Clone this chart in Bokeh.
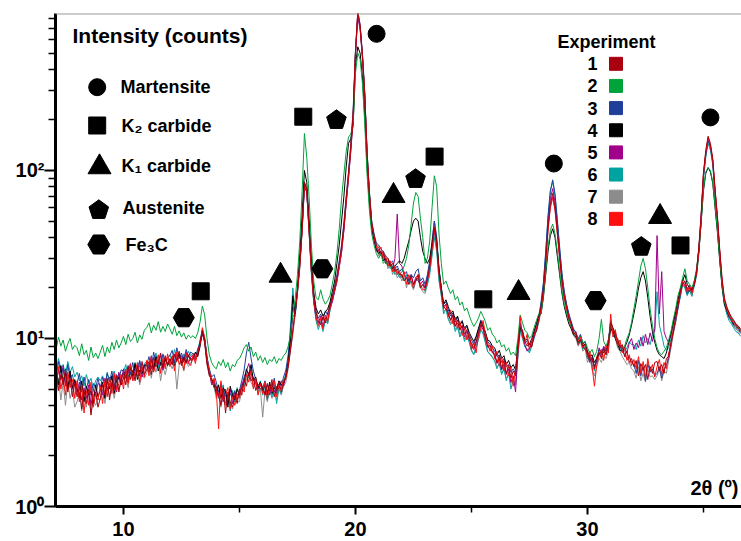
import numpy as np
from bokeh.plotting import figure
from bokeh.models import FixedTicker, Span
from bokeh.core.properties import value
from bokeh.embed import file_html
from bokeh.resources import INLINE

# ---------------- data (2theta from 7.0 deg, step 0.1; one row per degree) ----------------
START_DEG = 7
STEP = 0.1

exp1 = [
    [5.6, 6.5, 4.9, 6.1, 5.3, 6.6, 4.8, 5.8, 4.5, 5.4],
    [4.5, 5.2, 3.8, 4.9, 4.1, 5.0, 3.5, 4.6, 4.8, 3.9],
    [4.4, 5.3, 4.6, 5.8, 4.3, 5.5, 5.0, 6.0, 4.8, 5.7],
    [6.2, 5.3, 6.8, 5.7, 6.5, 5.6, 6.9, 6.0, 7.3, 6.1],
    [6.5, 7.3, 6.1, 7.7, 6.8, 7.2, 8.2, 6.7, 7.9, 7.0],
    [7.6, 7.0, 8.1, 7.3, 8.4, 6.9, 7.8, 7.1, 8.0, 7.4],
    [7.5, 8.2, 7.9, 9.6, 11.0, 9.5, 7.0, 6.0, 5.8, 5.1],
    [5.2, 4.6, 4.0, 5.0, 3.6, 4.8, 4.2, 3.9, 4.6, 4.1],
    [5.0, 4.6, 5.7, 5.2, 6.3, 5.6, 5.9, 4.9, 5.3, 5.0],
    [5.2, 4.6, 5.4, 4.9, 5.7, 4.5, 5.1, 5.5, 4.8, 5.4],
    [5.9, 6.8, 8.6, 11.2, 14.8, 19.5, 28, 46, 85, 78],
    [46, 27, 18.0, 14.2, 12.8, 12.1, 13.5, 12.4, 14.2, 15.6],
    [17.5, 20, 23, 28, 35, 47, 68, 96, 140, 220],
    [510, 880, 730, 490, 285, 128, 74, 49, 41, 36],
    [35, 32, 33, 29, 30, 27, 28, 25, 26, 24],
    [24, 22, 23, 21, 23.5, 21, 22, 24, 20, 21],
    [20, 22.5, 27, 35, 46, 37, 25, 19.5, 15.5, 15],
    [14.2, 12.8, 13.9, 11.8, 12.9, 11.2, 12.0, 10.6, 11.3, 9.9],
    [9.4, 8.8, 9.6, 10.8, 12.2, 11.6, 10.0, 8.9, 9.1, 8.2],
    [8.1, 7.2, 7.9, 6.6, 7.4, 6.2, 6.9, 5.8, 6.4, 6.0],
    [9.0, 11.8, 11.2, 9.6, 9.0, 9.4, 8.9, 10.8, 11.0, 13.2],
    [15.5, 19.5, 29, 46, 63, 73, 61, 44, 31, 22],
    [17.5, 15.5, 13, 12.4, 10.6, 10.8, 9.2, 9.8, 9.0, 8.6],
    [8.2, 7.4, 7.6, 6.6, 7.8, 8.3, 7.6, 8.8, 8.0, 9.4],
    [12.4, 11.6, 10.4, 10.0, 8.8, 9.2, 7.8, 8.4, 7.2, 7.6],
    [6.8, 7.4, 6.0, 7.1, 6.5, 7.0, 5.7, 6.8, 6.2, 7.2],
    [7.3, 6.4, 7.0, 6.2, 7.6, 7.8, 9.6, 10.8, 13.5, 15.5],
    [19, 21, 22, 19.5, 19, 20, 20.5, 25, 35, 55],
    [98, 132, 160, 145, 118, 78, 54, 34, 23, 17.5],
    [15.6, 14.2, 13.5, 12.8, 12.2, 11.9, 11.4],
]

exp2 = [
    [9.6, 8.7, 10.2, 9.0, 9.8, 8.4, 9.3, 10.0, 8.6, 9.1],
    [8.8, 7.9, 9.3, 8.0, 8.5, 7.4, 8.9, 7.7, 8.2, 7.6],
    [8.3, 9.1, 7.8, 8.9, 8.2, 9.5, 8.6, 9.8, 8.8, 9.4],
    [10.3, 9.2, 10.6, 9.6, 10.0, 10.9, 9.4, 10.5, 9.9, 11.2],
    [11.6, 12.4, 10.8, 12.0, 11.2, 12.6, 10.9, 11.8, 11.0, 12.2],
    [11.4, 10.6, 11.8, 10.4, 11.1, 10.2, 10.8, 9.9, 10.5, 10.1],
    [10.4, 10.0, 10.8, 12.5, 15.6, 13.8, 10.0, 8.0, 7.2, 6.8],
    [6.6, 7.3, 6.9, 7.5, 6.7, 7.2, 6.4, 7.0, 6.8, 7.4],
    [7.6, 8.1, 8.8, 9.2, 8.4, 8.9, 7.8, 8.3, 7.4, 7.9],
    [7.2, 7.7, 7.0, 7.5, 7.3, 7.8, 7.1, 7.6, 7.4, 7.9],
    [8.2, 9.0, 10.5, 14, 17, 24, 38, 75, 166, 120],
    [70, 36, 22, 17.5, 17.0, 19.5, 17.2, 16.0, 16.8, 18.0],
    [21, 25, 32, 45, 68, 95, 130, 158, 165, 190],
    [380, 500, 460, 330, 190, 95, 58, 42, 36, 32],
    [30, 32, 28, 29, 27, 27.5, 25, 26, 25, 24],
    [25, 27, 30, 36, 48, 64, 74, 70, 52, 40],
    [28, 30, 38, 60, 93, 80, 42, 28, 21, 22],
    [20, 18.5, 19.5, 17.0, 17.8, 15.8, 16.5, 14.6, 15.2, 13.8],
    [12.6, 11.8, 12.4, 13.2, 14.5, 13.6, 12.6, 11.2, 11.6, 10.6],
    [10.2, 9.4, 9.8, 8.9, 9.2, 8.4, 8.8, 8.0, 8.3, 7.9],
    [10.0, 13.8, 12.4, 11.2, 10.8, 10.0, 10.4, 11.6, 12.8, 14.0],
    [14, 18, 25, 35, 44, 48, 42, 33, 25, 19],
    [16, 14.2, 12.6, 11.8, 10.9, 10.5, 9.9, 10.3, 9.4, 9.6],
    [8.8, 8.2, 8.6, 7.8, 8.4, 10.0, 13.0, 9.6, 9.0, 9.8],
    [12.0, 11.5, 10.5, 9.5, 9.0, 8.8, 9.0, 10.0, 10.8, 12.5],
    [15, 18, 22, 27, 30, 26, 20, 15, 12, 10],
    [8.8, 8.2, 8.0, 8.4, 8.8, 9.8, 11, 13, 15, 18],
    [20, 23, 26, 22, 21, 20, 22, 26, 34, 50],
    [78, 98, 104, 100, 85, 62, 44, 30, 21, 16.5],
    [15.2, 14.0, 13.2, 12.6, 12.0, 11.7, 11.3],
]

exp3 = [
    [6.8, 5.9, 7.3, 6.2, 6.6, 5.4, 7.0, 5.8, 6.1, 5.2],
    [5.4, 6.2, 4.8, 5.9, 5.0, 5.7, 4.6, 5.4, 5.1, 5.8],
    [5.0, 5.9, 5.3, 6.2, 5.5, 6.4, 5.2, 6.1, 5.7, 6.5],
    [6.4, 5.8, 6.9, 6.1, 7.2, 6.0, 6.6, 7.4, 6.2, 7.0],
    [7.0, 7.8, 6.6, 8.3, 7.1, 7.5, 6.9, 8.1, 7.3, 7.7],
    [7.9, 8.5, 7.2, 8.8, 7.6, 8.2, 7.4, 8.6, 7.8, 8.3],
    [8.1, 7.6, 8.7, 9.3, 10.8, 9.9, 7.8, 6.6, 5.9, 6.1],
    [5.5, 4.8, 5.3, 4.4, 5.0, 4.1, 4.7, 4.5, 4.9, 4.3],
    [4.9, 5.6, 6.5, 8.2, 9.5, 7.6, 6.4, 5.7, 5.2, 5.5],
    [5.1, 5.6, 4.8, 5.3, 5.0, 5.8, 4.7, 5.5, 5.2, 5.9],
    [6.5, 8.0, 11, 15.5, 14, 19.5, 28, 45, 84, 77],
    [46, 26, 17.5, 14.5, 13.2, 14.0, 12.8, 14.6, 13.8, 16.0],
    [17.8, 20.5, 24, 29, 36, 49, 70, 98, 145, 230],
    [520, 880, 740, 500, 290, 130, 75, 50, 42, 37],
    [36, 34, 33, 31, 30, 28, 29, 26, 27, 25],
    [26, 24, 25, 22, 24, 23, 25, 26, 22, 23],
    [21, 24, 29, 38, 50, 40, 26, 20, 16, 16.5],
    [14.8, 13.6, 14.2, 12.5, 13.4, 11.9, 12.8, 11.2, 11.8, 10.6],
    [9.8, 9.2, 10.1, 11.2, 12.9, 12.0, 10.8, 9.6, 9.2, 8.8],
    [8.4, 7.8, 8.0, 7.2, 7.6, 6.8, 7.0, 6.3, 6.6, 6.2],
    [8.8, 12.0, 11.0, 9.8, 9.5, 8.8, 9.6, 10.8, 12.0, 13.6],
    [16.5, 21.5, 33, 54, 76, 88, 73, 51, 35, 24.5],
    [19, 16, 14, 12.6, 11.4, 10.8, 10.0, 10.6, 9.2, 9.6],
    [8.0, 7.2, 7.8, 6.8, 7.4, 8.6, 8.0, 8.8, 8.4, 9.6],
    [12.8, 11.2, 10.8, 9.4, 9.0, 8.4, 8.0, 7.6, 7.8, 7.2],
    [7.0, 6.2, 7.4, 6.0, 6.8, 5.6, 7.1, 6.3, 6.6, 6.0],
    [6.2, 6.8, 5.8, 6.6, 6.9, 7.6, 9.2, 11.0, 12.6, 15.0],
    [18, 21.5, 21, 18.5, 20, 19, 21, 24.5, 34, 54],
    [92, 125, 150, 138, 112, 74, 51, 32, 21.5, 16.5],
    [14.6, 13.4, 12.8, 12.0, 11.6, 11.3, 10.8],
]

exp4 = [
    [5.9, 6.6, 5.3, 6.9, 5.5, 6.2, 5.0, 6.4, 5.1, 5.7],
    [5.0, 4.4, 5.6, 4.2, 5.2, 4.6, 4.9, 4.1, 5.3, 4.5],
    [4.9, 5.5, 4.4, 5.7, 5.0, 6.0, 4.7, 5.6, 5.9, 5.3],
    [5.8, 6.4, 5.5, 6.7, 6.0, 7.1, 5.7, 6.5, 6.2, 6.9],
    [6.9, 6.3, 7.5, 6.6, 7.8, 6.4, 7.2, 6.8, 7.6, 6.9],
    [7.3, 7.8, 6.9, 7.5, 8.1, 7.1, 7.7, 7.2, 7.9, 7.5],
    [7.7, 8.3, 7.8, 9.0, 11.2, 9.8, 7.4, 6.2, 5.6, 5.4],
    [4.7, 5.3, 4.4, 5.1, 4.8, 3.9, 5.2, 4.6, 4.3, 5.0],
    [4.6, 5.1, 5.5, 6.6, 6.0, 7.0, 5.6, 5.9, 5.1, 5.5],
    [4.9, 5.3, 4.6, 5.5, 4.7, 5.1, 4.9, 5.6, 5.3, 5.4],
    [6.0, 7.2, 10, 18, 14, 20, 32, 55, 100, 85],
    [52, 30, 19.0, 15.2, 14.0, 14.8, 13.6, 14.4, 15.0, 16.4],
    [19, 22, 28, 36, 50, 70, 105, 145, 155, 185],
    [420, 545, 500, 360, 210, 105, 64, 45, 39, 34],
    [32, 33, 29, 30, 27, 28, 26, 27, 28, 29],
    [28, 30, 34, 38, 44, 50, 52, 50, 40, 33],
    [30, 28, 30, 36, 45, 38, 26, 20, 16, 17],
    [15.5, 14.0, 14.6, 12.9, 13.6, 12.1, 12.6, 11.5, 12.0, 10.9],
    [10.2, 9.6, 10.3, 11.5, 12.6, 11.8, 10.9, 9.8, 9.6, 9.0],
    [8.8, 8.0, 8.5, 7.6, 7.9, 7.0, 7.4, 6.7, 7.0, 6.5],
    [9.2, 11.5, 10.8, 9.7, 9.9, 9.2, 10.0, 11.1, 12.3, 13.8],
    [14, 17.5, 24, 33, 41, 45, 40, 31, 24, 18.5],
    [15.5, 13.6, 12.2, 11.4, 10.5, 10.2, 9.5, 9.9, 9.0, 9.3],
    [8.4, 7.8, 8.0, 7.2, 7.6, 8.0, 8.4, 8.2, 8.8, 9.2],
    [11.5, 11.0, 10.0, 9.2, 8.5, 8.4, 8.8, 9.5, 10.5, 12.0],
    [14, 16.5, 20, 23, 25, 22, 17.5, 13.5, 11, 9.5],
    [8.5, 8.0, 7.8, 7.6, 8.2, 9.4, 10.8, 12.5, 14.5, 17],
    [19.5, 22, 24, 21, 20, 19.5, 21, 25, 33, 49],
    [76, 96, 104, 98, 84, 60, 43, 29, 20.5, 16],
    [14.8, 13.6, 13.0, 12.2, 11.8, 11.5, 11.0],
]

exp5 = [
    [6.2, 5.4, 6.5, 5.7, 6.9, 5.2, 5.9, 6.3, 5.0, 5.6],
    [4.8, 5.5, 4.3, 5.1, 4.4, 5.3, 4.0, 5.0, 4.6, 5.4],
    [5.3, 4.6, 5.8, 4.9, 5.4, 5.1, 6.1, 4.8, 6.3, 5.5],
    [6.6, 5.9, 6.2, 7.1, 5.8, 6.8, 6.3, 7.3, 5.9, 6.7],
    [7.2, 6.6, 7.9, 6.4, 7.4, 7.0, 8.0, 6.5, 7.5, 7.1],
    [7.5, 7.0, 8.0, 7.4, 7.7, 7.9, 7.2, 8.3, 7.1, 7.8],
    [7.9, 7.4, 8.2, 9.4, 10.6, 9.6, 7.3, 6.5, 5.3, 5.7],
    [5.0, 4.5, 5.4, 4.2, 4.7, 4.4, 5.0, 4.1, 4.8, 4.6],
    [4.8, 5.2, 5.9, 6.4, 7.1, 6.2, 5.8, 5.4, 5.0, 5.3],
    [5.0, 4.7, 5.3, 4.6, 5.4, 4.8, 5.2, 5.0, 5.6, 5.2],
    [6.0, 7.0, 9.5, 13.5, 14, 19, 27, 44, 80, 74],
    [43, 25, 16.8, 13.2, 12.4, 13.6, 11.8, 13.2, 13.0, 15.2],
    [16.5, 19, 22, 26.5, 33, 44, 64, 90, 132, 205],
    [490, 820, 690, 470, 270, 120, 70, 46, 38, 33],
    [34, 31, 32, 28, 29, 27, 26, 30, 55, 28],
    [27, 24, 23, 22, 24, 21, 23, 22, 21, 22],
    [20, 23, 28, 37, 50, 39, 25, 19, 15.5, 16],
    [13.9, 12.9, 13.6, 11.9, 12.3, 11.4, 11.8, 10.2, 11.0, 10.3],
    [9.0, 8.6, 9.4, 10.6, 12.0, 11.3, 10.2, 8.9, 8.7, 8.4],
    [7.9, 7.1, 7.6, 6.5, 7.0, 6.1, 6.6, 5.5, 6.0, 4.8],
    [8.0, 12.4, 10.6, 9.2, 8.4, 8.8, 9.2, 10.2, 11.4, 13.0],
    [15.5, 20, 30, 48, 68, 78, 65, 46, 32, 23],
    [18.5, 15.8, 13.8, 12.2, 11.2, 11.0, 9.8, 10.4, 9.5, 9.0],
    [8.2, 7.6, 7.4, 6.9, 7.2, 8.8, 8.2, 9.0, 8.6, 9.8],
    [12.2, 10.8, 11.0, 9.6, 9.2, 8.6, 8.9, 8.2, 9.4, 10.0],
    [8.6, 9.4, 8.8, 10.2, 9.0, 10.6, 9.2, 10.8, 9.6, 11.5],
    [41, 14, 25, 11, 10, 9.5, 10.5, 12.5, 14, 17],
    [18.8, 22.5, 21.8, 19.8, 20.8, 18.8, 21.8, 25, 34, 53],
    [94, 126, 154, 140, 114, 76, 52, 33, 22, 17],
    [15.2, 14.4, 13.2, 12.9, 12.1, 11.8, 11.2],
]

exp6 = [
    [7.2, 6.4, 7.6, 6.6, 7.0, 6.1, 7.3, 6.3, 6.8, 5.9],
    [6.3, 5.6, 6.0, 5.2, 6.1, 5.4, 5.8, 5.0, 5.6, 5.9],
    [5.6, 6.0, 5.2, 6.3, 5.5, 5.9, 6.4, 5.6, 6.2, 6.0],
    [6.3, 7.0, 5.9, 6.6, 6.2, 7.2, 6.0, 6.9, 6.4, 7.1],
    [7.3, 6.8, 7.7, 7.0, 8.2, 6.7, 7.4, 7.9, 6.9, 7.6],
    [8.0, 7.4, 8.6, 7.7, 8.3, 7.2, 8.1, 7.6, 8.4, 7.9],
    [8.2, 7.8, 8.5, 9.8, 11.3, 10.0, 7.9, 6.1, 5.7, 5.5],
    [5.1, 4.4, 4.9, 5.3, 4.1, 4.6, 3.7, 4.9, 4.2, 5.1],
    [4.5, 5.4, 5.1, 6.2, 5.8, 6.6, 5.3, 5.5, 4.9, 5.6],
    [4.6, 5.2, 4.3, 4.9, 4.5, 5.3, 4.1, 5.0, 4.7, 5.5],
    [6.2, 7.5, 12, 20, 13.5, 19, 28, 46, 86, 75],
    [44, 24, 16.5, 12.8, 11.3, 12.5, 11.0, 12.8, 12.2, 14.6],
    [16.8, 19.2, 22.5, 27.5, 34, 46, 66, 94, 138, 215],
    [505, 850, 710, 480, 285, 128, 74, 49, 41, 36],
    [33, 31, 32, 28, 29, 26, 27, 24, 25, 23],
    [24, 22, 24, 21, 22, 20, 22, 23, 20, 21],
    [19, 21, 24, 31, 40, 33, 22, 18, 14, 15],
    [13.0, 12.1, 12.8, 11.0, 11.7, 10.2, 11.1, 9.6, 10.4, 9.5],
    [8.4, 8.0, 8.9, 9.8, 11.2, 10.8, 9.4, 8.3, 8.1, 7.8],
    [7.3, 6.6, 7.2, 6.1, 6.7, 5.6, 6.3, 5.0, 5.7, 5.3],
    [7.8, 11.2, 10.0, 8.9, 8.7, 8.2, 9.0, 10.0, 11.2, 12.6],
    [16, 21, 32, 52, 75, 86, 71, 50, 34, 24],
    [18.8, 15.6, 13.6, 12.5, 11.0, 10.2, 9.4, 9.8, 8.6, 9.0],
    [7.6, 8.2, 7.0, 6.4, 7.6, 8.2, 7.8, 8.6, 8.0, 9.0],
    [12.6, 11.4, 10.2, 9.8, 8.6, 8.8, 8.4, 8.8, 9.6, 9.2],
    [9.2, 8.6, 9.8, 9.0, 10.4, 9.4, 10.0, 9.2, 10.6, 11.0],
    [19, 12, 10.5, 9, 8.5, 8.8, 10, 12, 13.5, 16],
    [17.5, 21, 20, 18, 19.5, 17.8, 20.5, 23.5, 32, 50],
    [90, 120, 145, 132, 108, 70, 48, 30, 20, 16],
    [14.0, 12.8, 12.2, 11.6, 11.0, 10.8, 10.3],
]

exp7 = [
    [5.3, 4.6, 5.8, 4.3, 5.5, 4.0, 5.6, 4.4, 5.0, 3.9],
    [4.2, 4.8, 3.7, 4.5, 3.9, 4.6, 3.6, 4.3, 4.0, 4.4],
    [4.3, 5.0, 4.1, 5.2, 4.5, 5.4, 4.4, 5.3, 5.0, 5.6],
    [5.4, 6.0, 5.1, 6.3, 5.6, 5.9, 6.5, 5.3, 6.1, 5.8],
    [6.2, 6.9, 5.8, 7.1, 6.3, 7.4, 5.6, 6.8, 6.1, 7.0],
    [7.1, 6.6, 7.4, 5.0, 6.9, 7.3, 6.4, 7.6, 6.8, 7.2],
    [7.4, 7.7, 8.0, 8.9, 10.9, 9.3, 7.1, 6.3, 5.4, 5.2],
    [4.4, 4.9, 3.9, 4.6, 4.0, 4.5, 4.1, 3.8, 4.4, 4.2],
    [4.2, 4.9, 5.3, 5.7, 6.0, 5.5, 5.1, 5.6, 4.7, 5.0],
    [3.4, 4.9, 4.2, 5.0, 4.4, 4.8, 4.3, 5.1, 4.6, 5.2],
    [5.5, 6.6, 8.5, 10.5, 13.8, 18.5, 26, 43, 80, 75],
    [43, 25, 16.6, 13.0, 11.8, 12.8, 11.6, 13.4, 12.4, 14.8],
    [16.6, 19.2, 21.5, 26.8, 32, 44, 63, 90, 130, 200],
    [490, 840, 700, 470, 275, 122, 71, 47, 39, 35],
    [31, 33, 29, 30, 26, 28, 24, 26, 23, 24],
    [22, 24, 20, 23, 21, 19.5, 22, 23, 20, 19],
    [18.5, 21, 25, 32, 42, 35, 23, 18, 14.5, 15],
    [13.2, 12.4, 13.0, 11.3, 12.0, 10.6, 11.3, 9.9, 10.6, 9.7],
    [8.6, 8.1, 9.0, 10.0, 11.5, 10.6, 9.6, 8.4, 8.0, 7.7],
    [7.4, 6.8, 7.0, 6.2, 6.5, 5.8, 6.1, 5.4, 5.6, 5.5],
    [8.1, 11.0, 10.2, 9.0, 8.5, 8.4, 9.1, 10.3, 11.0, 12.4],
    [14.5, 19, 28, 45, 61, 70, 59, 42, 30, 21],
    [17, 14.6, 13, 11.6, 10.4, 10.0, 9.0, 9.6, 8.4, 8.7],
    [7.2, 7.8, 6.5, 6.0, 6.8, 7.6, 7.2, 8.0, 7.6, 8.4],
    [11.6, 10.4, 10.0, 8.8, 8.4, 7.8, 7.4, 7.0, 7.2, 6.6],
    [6.4, 5.8, 6.8, 5.6, 6.2, 5.5, 6.6, 5.9, 6.0, 5.7],
    [6.0, 6.6, 5.6, 6.4, 6.2, 7.4, 8.8, 10.6, 12.4, 15.2],
    [17.8, 21.2, 20.2, 18.2, 19.6, 18, 20.8, 23.8, 32, 50],
    [93, 124, 150, 136, 110, 72, 50, 32, 21.5, 16.8],
    [14.4, 13.2, 12.6, 11.8, 11.4, 11.0, 10.6],
]

exp8 = [
    [6.4, 5.2, 6.8, 5.0, 5.9, 4.6, 6.3, 5.1, 5.7, 4.4],
    [5.6, 4.2, 5.3, 3.6, 4.9, 4.0, 5.5, 3.9, 4.7, 4.3],
    [5.2, 4.1, 5.6, 4.5, 5.9, 4.7, 6.2, 4.9, 5.4, 6.1],
    [5.0, 6.6, 5.4, 7.0, 5.6, 6.3, 7.2, 5.5, 6.8, 5.9],
    [7.4, 6.0, 7.8, 6.3, 7.1, 8.0, 6.2, 7.6, 6.6, 8.1],
    [6.8, 7.9, 6.4, 8.3, 7.0, 7.7, 6.5, 8.2, 7.2, 6.9],
    [8.0, 7.1, 8.4, 9.2, 11.6, 10.2, 7.6, 6.4, 5.5, 5.8],
    [4.9, 2.9, 5.6, 4.3, 4.6, 5.1, 3.8, 4.5, 4.0, 4.7],
    [4.4, 5.3, 4.8, 6.1, 5.5, 6.4, 5.0, 5.8, 4.6, 5.4],
    [4.7, 5.5, 4.4, 5.2, 4.8, 5.6, 4.5, 5.3, 5.0, 5.7],
    [5.8, 7.0, 8.8, 11.0, 14.5, 19, 27, 44, 82, 76],
    [44, 25, 17.0, 13.5, 12.0, 13.2, 11.4, 13.8, 12.6, 15.0],
    [17.0, 19.5, 22, 27, 33, 45, 65, 92, 135, 210],
    [500, 870, 720, 480, 280, 125, 72, 48, 40, 35],
    [33, 35, 30, 31, 27, 29, 25, 27, 24, 25],
    [23, 25, 21, 24, 22, 20, 23, 24, 21, 19.5],
    [19.5, 22, 26, 34, 44, 36, 24, 19, 15, 16],
    [13.5, 14.8, 12.2, 13.4, 11.5, 12.6, 10.4, 11.6, 9.8, 10.8],
    [8.6, 9.5, 8.2, 10.5, 11.4, 12.8, 10.6, 9.4, 8.4, 9.0],
    [7.6, 8.4, 6.9, 7.8, 6.4, 7.2, 6.0, 6.8, 5.2, 6.6],
    [8.4, 13.5, 10.2, 9.4, 10.6, 8.6, 9.8, 10.5, 11.6, 12.8],
    [15, 19, 28, 44, 60, 69, 58, 42, 30, 22],
    [18, 15, 13.5, 12, 11, 10.4, 9.6, 10.2, 8.8, 9.2],
    [7.8, 8.4, 6.8, 5.2, 7.0, 7.9, 8.6, 7.4, 9.1, 8.2],
    [14.0, 10.2, 11.3, 9.0, 9.8, 8.2, 8.8, 7.4, 8.0, 6.9],
    [7.5, 6.6, 7.8, 6.2, 7.3, 5.8, 7.6, 6.4, 7.0, 5.9],
    [6.8, 7.5, 6.1, 7.2, 6.6, 8.2, 9.0, 11.5, 13.0, 16.0],
    [18.5, 22, 20.5, 19, 20.5, 18.5, 21.5, 24, 33, 52],
    [95, 128, 157, 140, 115, 75, 52, 33, 22, 17],
    [15.0, 13.8, 13.0, 12.4, 12.0, 11.6, 11.1],
]

experiment_labels = ["1", "2", "3", "4", "5", "6", "7", "8"]
experiment_colors = ["#a8000f", "#00a23a", "#1f3f9a", "#000000",
                     "#a0008a", "#00a3a0", "#8c8c8c", "#ff1010"]
experiment_rows = [exp1, exp2, exp3, exp4, exp5, exp6, exp7, exp8]
draw_order = [6, 5, 4, 2, 3, 1, 7, 0]   # indices into the lists above

# phase assignments: (2theta, intensity at which the symbol sits)
martensite_x = [20.91, 28.55, 35.30]
martensite_y = [651, 110, 207]
k2_x = [13.33, 17.75, 23.41, 25.51, 34.01]
k2_y = [19.1, 209, 121, 17.1, 35.8]
k1_x = [16.77, 21.64, 27.03, 33.13]
k1_y = [23.7, 70.7, 18.7, 53]
austenite_x = [19.18, 22.59, 32.32]
austenite_y = [199.5, 88.9, 35.1]
fe3c_x = [12.60, 18.57, 30.35]
fe3c_y = [13.3, 26.0, 16.8]

phase_names = ["Martensite", "K\u2082 carbide", "K\u2081 carbide", "Austenite", "Fe\u2083C"]

x_ticks = [10, 20, 30]
x_minor = [15, 25, 35]
y_ticks = [1, 10, 100]
y_labels = {1: "10\u2070", 10: "10\u00b9", 100: "10\u00b2"}
y_minor = [m * d for d in (1, 10, 100) for m in range(2, 10)]

# ---------------- layout helpers (page pixels of the frame) ----------------
W, H = 741, 541
FRAME_L, FRAME_R, FRAME_T, FRAME_B = 55, 741, 13, 506
X_MIN = 7.07
PPX = 23.2                      # pixels per degree
X_MAX = X_MIN + (FRAME_R - FRAME_L) / PPX
Y_MIN, Y_MAX = 1.0, 860.0
PPY = (FRAME_B - FRAME_T) / np.log10(Y_MAX / Y_MIN)

def rx(px):
    return X_MIN + (px - FRAME_L) / PPX

def ry(py):
    return Y_MIN * 10 ** ((FRAME_B - py) / PPY)

def px_of(x):
    return FRAME_L + (x - X_MIN) * PPX

def py_of(y):
    return FRAME_B - np.log10(y / Y_MIN) * PPY

def flatten(rows):
    xs, ys = [], []
    for d, row in zip(range(START_DEG, START_DEG + len(rows)), rows):
        for j, v in enumerate(row):
            xs.append(round(d + j * STEP, 2))
            ys.append(v)
    return xs, ys

def pentagon(cx_px, cy_px, r):
    ang = np.deg2rad(-90 + 72 * np.arange(5))
    return ([rx(cx_px + r * np.cos(a)) for a in ang],
            [ry(cy_px + r * np.sin(a)) for a in ang])

FONT = value("Liberation Sans")

p = figure(width=W, height=H, x_range=(X_MIN, X_MAX), y_range=(Y_MIN, Y_MAX),
           y_axis_type="log", output_backend="svg", toolbar_location=None,
           min_border_left=FRAME_L, min_border_right=W - FRAME_R,
           min_border_top=FRAME_T, min_border_bottom=H - FRAME_B)
p.outline_line_color = None
p.grid.visible = False
p.background_fill_color = "white"

# axes
p.xaxis.ticker = FixedTicker(ticks=x_ticks, minor_ticks=x_minor)
p.yaxis.ticker = FixedTicker(ticks=y_ticks, minor_ticks=y_minor)
p.yaxis.major_label_overrides = y_labels
for ax in (p.xaxis, p.yaxis):
    ax.axis_line_width = 3
    ax.axis_line_color = "black"
    ax.major_tick_line_color = "black"
    ax.minor_tick_line_color = "black"
    ax.major_tick_line_width = 2
    ax.minor_tick_line_width = 1.5
    ax.major_tick_in = 0
    ax.minor_tick_in = 0
    ax.major_label_text_font = "Liberation Sans"
    ax.major_label_text_font_style = "bold"
    ax.major_label_text_font_size = "20px"
    ax.major_label_text_color = "black"
p.yaxis.major_tick_out = 11
p.yaxis.minor_tick_out = 7
p.yaxis.major_label_standoff = 0
p.xaxis.major_tick_out = 8
p.xaxis.minor_tick_out = 6
p.xaxis.major_label_standoff = 7

p.add_layout(Span(location=Y_MAX, dimension="width", line_color="#9a9a9a", line_width=2))

# spectra
for i in draw_order:
    xs, ys = flatten(experiment_rows[i])
    p.line(xs, ys, line_color=experiment_colors[i], line_width=1)

# phase symbols on peaks
MK = dict(color="black", line_color="black")
p.scatter(martensite_x, martensite_y, marker="circle", size=17, **MK)
p.scatter(k2_x, k2_y, marker="square", size=17, **MK)
p.scatter(k1_x, k1_y, marker="triangle", size=23, **MK)
p.scatter(fe3c_x, fe3c_y, marker="hex", size=21, **MK)
pxs, pys = [], []
for x, y in zip(austenite_x, austenite_y):
    a, b = pentagon(px_of(x), py_of(y), 10.3)
    pxs.append(a)
    pys.append(b)
p.patches(pxs, pys, fill_color="black", line_color="black")

# phase legend (upper left)
leg_sym_px = [(96.7, 86.7), (96.7, 125.0), (99.0, 166.6), (98.3, 209.6), (98.3, 244.0)]
p.scatter([rx(leg_sym_px[0][0])], [ry(leg_sym_px[0][1])], marker="circle", size=17, **MK)
p.scatter([rx(leg_sym_px[1][0])], [ry(leg_sym_px[1][1])], marker="square", size=17, **MK)
p.scatter([rx(leg_sym_px[2][0])], [ry(leg_sym_px[2][1])], marker="triangle", size=23, **MK)
a, b = pentagon(leg_sym_px[3][0], leg_sym_px[3][1], 10.3)
p.patch(a, b, fill_color="black", line_color="black")
p.scatter([rx(leg_sym_px[4][0])], [ry(leg_sym_px[4][1])], marker="hex", size=22, **MK)

leg_txt_px = [(120, 86), (121, 125), (121, 165), (122, 207), (125, 244.5)]
p.text([rx(t[0]) for t in leg_txt_px], [ry(t[1]) for t in leg_txt_px], text=phase_names,
       text_font=FONT, text_font_style="bold", text_font_size=value("18px"),
       text_color="black", text_align="left", text_baseline="middle")

# titles
p.text([rx(72)], [ry(35)], text=["Intensity (counts)"], text_font=FONT,
       text_font_style="bold", text_font_size=value("21px"), text_color="black",
       text_align="left", text_baseline="middle")
p.text([rx(738)], [ry(487)], text=["2\u03b8 (\u00ba)"], text_font=FONT,
       text_font_style="bold", text_font_size=value("20px"), text_color="black",
       text_align="right", text_baseline="middle")

# experiment legend (upper right)
p.text([rx(557)], [ry(41.7)], text=["Experiment"], text_font=FONT,
       text_font_style="bold", text_font_size=value("18px"), text_color="black",
       text_align="left", text_baseline="middle")
row_py = [63.3 + 22.15 * k for k in range(len(experiment_labels))]
p.text([rx(597)] * len(row_py), [ry(v) for v in row_py], text=experiment_labels,
       text_font=FONT, text_font_style="bold", text_font_size=value("18px"),
       text_color="black", text_align="right", text_baseline="middle")
p.scatter([rx(615.5)] * len(row_py), [ry(v) for v in row_py], marker="square", size=13,
          fill_color=experiment_colors, line_color=experiment_colors)

open("out.html", "w").write(file_html(p, INLINE))
